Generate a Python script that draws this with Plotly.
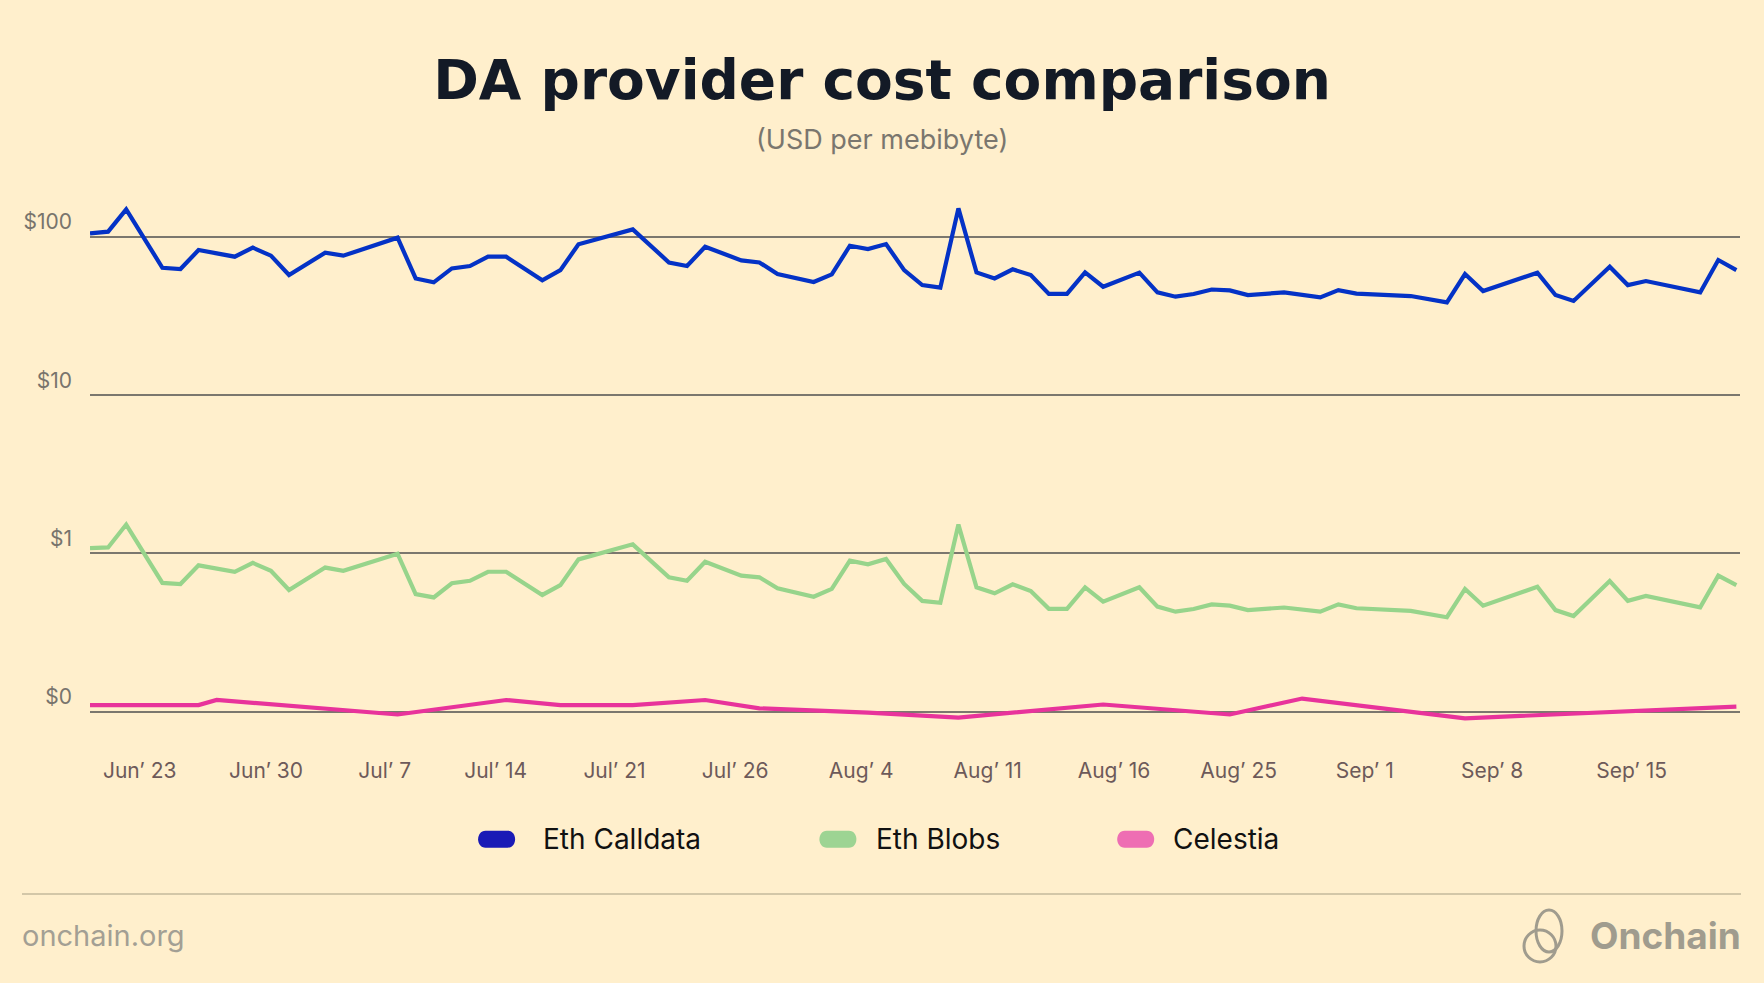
import plotly.graph_objects as go

# ---------------- data ----------------
tick_labels = ["Jun’ 23", "Jun’ 30", "Jul’ 7", "Jul’ 14", "Jul’ 21", "Jul’ 26", "Aug’ 4",
               "Aug’ 11", "Aug’ 16", "Aug’ 25", "Sep’ 1", "Sep’ 8", "Sep’ 15"]
tick_pos = [2.75, 9.73, 16.29, 22.42, 28.99, 35.66, 42.62, 49.62, 56.6, 63.49, 70.46, 77.5, 85.21]

calldata_day = [0, 1, 2, 4, 5, 6, 8, 9, 10, 11, 13, 14, 17, 18, 19, 20, 21, 22, 23, 25, 26, 27, 30,
                32, 33, 34, 36, 37, 38, 40, 41, 42, 43, 44, 45, 46, 47, 48, 49, 50, 51, 52, 53, 54,
                55, 56, 58, 59, 60, 61, 62, 63, 64, 66, 68, 69, 70, 73, 75, 76, 77, 80, 81, 82, 84,
                85, 86, 89, 90, 91]
calldata_usd = [105, 107.6, 149, 63.7, 62.5, 82.4, 74.8, 85.3, 75.9, 57.3, 79.3, 75.9, 98.6, 54.5,
                51.5, 63.1, 65.3, 74.8, 74.8, 53.0, 61.5, 89.6, 111.3,
                68.8, 65.3, 86.4, 70.9, 68.8, 58.1, 51.8, 57.8, 87.7, 83.6, 89.9, 61.5, 49.5, 47.7,
                151, 59.5, 54.5, 62.2, 57.3, 43.5, 43.5, 59.5, 48.3, 59.3, 44.5, 41.8, 43.5, 46.4,
                45.8, 42.8, 44.5, 41.4, 46.0, 43.7, 42.2, 38.5, 58.1, 45.4, 59.3, 42.8, 39.3, 64.7,
                49.5, 52.5, 44.5, 71.3, 61.5]

blobs_day = [0, 1, 2, 4, 5, 6, 8, 9, 10, 11, 13, 14, 17, 18, 19, 20, 21, 22, 23, 25, 26, 27, 30,
             32, 33, 34, 36, 37, 38, 40, 41, 42, 43, 44, 45, 46, 47, 48, 49, 50, 51, 52, 53, 54,
             55, 56, 58, 59, 60, 61, 62, 63, 64, 66, 68, 69, 70, 73, 75, 76, 77, 80, 81, 82, 84,
             85, 86, 89, 90, 91]
blobs_usd = [1.08, 1.09, 1.52, 0.65, 0.64, 0.84, 0.765, 0.87, 0.776, 0.587, 0.813, 0.776, 0.995,
             0.553, 0.527, 0.647, 0.671, 0.765, 0.765, 0.546, 0.63, 0.916, 1.14,
             0.706, 0.671, 0.885, 0.723, 0.706, 0.601, 0.532, 0.596, 0.899, 0.853, 0.921, 0.641,
             0.501, 0.487, 1.52, 0.61, 0.559, 0.638, 0.578, 0.446, 0.446, 0.61, 0.495, 0.61,
             0.461, 0.428, 0.445, 0.476, 0.467, 0.438, 0.455, 0.428, 0.476, 0.45, 0.433, 0.395,
             0.596, 0.467, 0.615, 0.438, 0.402, 0.668, 0.501, 0.538, 0.456, 0.723, 0.63]

celestia_day = [0, 6, 7, 17, 23, 26, 30, 34, 37, 43, 48, 56, 63, 67, 76, 91]
celestia_usd = [0.110, 0.110, 0.1185, 0.096, 0.1185, 0.110, 0.110, 0.1185, 0.105, 0.0987,
                0.0917, 0.111, 0.096, 0.121, 0.0908, 0.1077]

y_tickvals = [0.1, 1, 10, 100]
y_ticktext = ["$0", "$1", "$10", "$100"]

series_names = ["Eth Calldata", "Eth Blobs", "Celestia"]
line_colors = ["#0432C6", "#97D48B", "#E8339B"]
legend_colors = ["#1A1AB6", "#9DD493", "#EE6EB3"]

# ---------------- layout geometry ----------------
W, H = 1764, 983
L, R, T, B = 90, 1740, 200, 740
BG = "#FFEFCC"
FONT = "Inter"


def px_x(px):
    return (px - L) / (R - L)


def px_y(py):
    return (B - py) / (B - T)


fig = go.Figure()
for name, xs, ys, col in zip(series_names,
                             [calldata_day, blobs_day, celestia_day],
                             [calldata_usd, blobs_usd, celestia_usd],
                             line_colors):
    fig.add_trace(go.Scatter(x=xs, y=ys, mode="lines", name=name,
                             line=dict(color=col, width=4.2), showlegend=False))

fig.update_layout(
    width=W, height=H,
    margin=dict(l=L, r=W - R, t=T, b=H - B, pad=0),
    paper_bgcolor=BG, plot_bgcolor=BG,
    font=dict(family=FONT, color="#111111"),
    title=dict(text="DA provider cost comparison", x=0.5, xref="container",
               y=1 - 80 / H, yref="container", xanchor="center", yanchor="middle",
               font=dict(family="DejaVu Sans", size=55, weight=700, color="#131A26")),
    xaxis=dict(range=[0, 91.2], showgrid=False, zeroline=False, showline=False,
               tickmode="array", tickvals=tick_pos, ticktext=tick_labels,
               ticks="", ticklabelstandoff=16,
               tickfont=dict(family=FONT, size=21, color="#6D5A5A")),
    yaxis=dict(type="log", range=[-1.179, 2.232], showgrid=True, gridcolor="#7B776E",
               gridwidth=2, zeroline=False, showline=False,
               tickmode="array", tickvals=y_tickvals, ticktext=y_ticktext,
               ticks="", ticklabelposition="outside top", ticklabelstandoff=17,
               tickfont=dict(family=FONT, size=21, color="#78746C")),
    showlegend=False,
)

# subtitle
fig.add_annotation(text="(USD per mebibyte)", xref="paper", yref="paper",
                   x=px_x(882), y=px_y(140), xanchor="center", yanchor="middle",
                   showarrow=False, font=dict(family=FONT, size=27, color="#7A766E"))

# custom legend (pill swatches + labels)
pill = "M -11,-8.5 L 11,-8.5 C 21,-8.5 21,8.5 11,8.5 L -11,8.5 C -21,8.5 -21,-8.5 -11,-8.5 Z"
sw_cx = [496.6, 837.9, 1135.7]
tx_l = [540.5, 873.5, 1170.5]
leg_y = 839.2
for name, col, cx, tx in zip(series_names, legend_colors, sw_cx, tx_l):
    fig.add_shape(type="path", xref="paper", yref="paper", xsizemode="pixel", ysizemode="pixel",
                  xanchor=px_x(cx), yanchor=px_y(leg_y), path=pill,
                  fillcolor=col, line=dict(width=0))
    fig.add_annotation(text=name, xref="paper", yref="paper", x=px_x(tx), y=px_y(leg_y),
                       xanchor="left", yanchor="middle", showarrow=False,
                       font=dict(family=FONT, size=28, color="#111111"))

# footer rule
fig.add_shape(type="line", xref="paper", yref="paper", x0=px_x(22), x1=px_x(1741),
              y0=px_y(894), y1=px_y(894), line=dict(color="#D3C7A8", width=2))
fig.add_annotation(text="onchain.org", xref="paper", yref="paper", x=px_x(20), y=px_y(935),
                   xanchor="left", yanchor="middle", showarrow=False,
                   font=dict(family=FONT, size=29, color="#A39F94"))
fig.add_annotation(text="Onchain", xref="paper", yref="paper", x=px_x(1743), y=px_y(935),
                   xanchor="right", yanchor="middle", showarrow=False,
                   font=dict(family=FONT, size=37, weight=700, color="#A09C8E"))
# logo mark (two interlaced loops)
fig.add_shape(type="circle", xref="paper", yref="paper",
              x0=px_x(1524), x1=px_x(1556), y0=px_y(962), y1=px_y(930),
              line=dict(color="#A09C8E", width=3))
fig.add_shape(type="circle", xref="paper", yref="paper",
              x0=px_x(1536), x1=px_x(1562), y0=px_y(952), y1=px_y(910),
              line=dict(color="#A09C8E", width=3))

fig.write_html("out.html", config={"displayModeBar": False},
               post_script="document.body.style.margin='0';document.body.style.overflow='hidden';")
